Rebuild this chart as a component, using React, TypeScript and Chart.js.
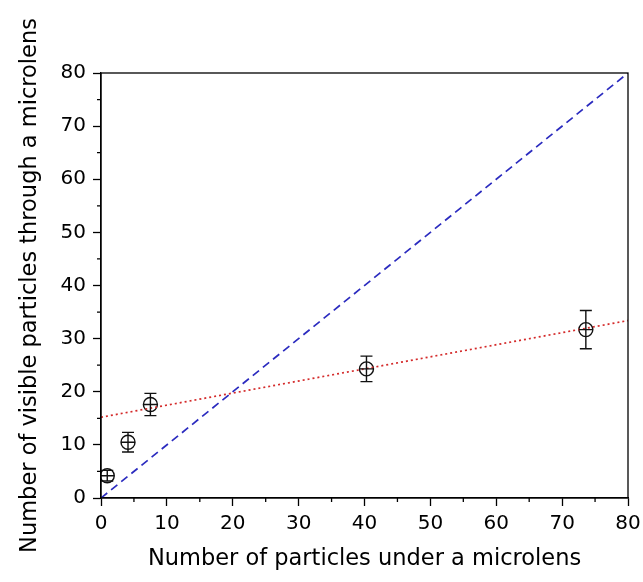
import React, { useEffect, useRef } from "react";
import { Chart, registerables } from "chart.js";

Chart.register(...registerables);

// Data
const particlesUnder = [0.95, 4.1, 7.5, 40.3, 73.6];
const visibleParticles = [4.2, 10.5, 17.6, 24.3, 31.7];
const visibleErrors = [1.0, 1.85, 2.1, 2.4, 3.6];

const identityX = [0, 80];
const identityY = [0, 80];

const fitX = [0, 80];
const fitY = [15.2, 33.4];

const axisMin = 0;
const axisMax = 80;
const majorStep = 10;
const minorTicks = [5, 15, 25, 35, 45, 55, 65, 75];

const xTitle = "Number of particles under a microlens";
const yTitle = "Number of visible particles through a microlens";

const FONT = "DejaVu Sans";

const decorPlugin = {
  id: "decor",
  afterDatasetsDraw(chart: any) {
    const { ctx, chartArea, scales } = chart;
    const x = scales.x;
    const y = scales.y;
    ctx.save();
    ctx.strokeStyle = "#111";
    ctx.lineWidth = 1.4;
    // error bars + crosshair in markers
    particlesUnder.forEach((xv, i) => {
      const px = x.getPixelForValue(xv);
      const py = y.getPixelForValue(visibleParticles[i]);
      const top = y.getPixelForValue(visibleParticles[i] + visibleErrors[i]);
      const bot = y.getPixelForValue(visibleParticles[i] - visibleErrors[i]);
      ctx.beginPath();
      ctx.moveTo(px, top);
      ctx.lineTo(px, bot);
      ctx.moveTo(px - 6, top);
      ctx.lineTo(px + 6, top);
      ctx.moveTo(px - 6, bot);
      ctx.lineTo(px + 6, bot);
      ctx.moveTo(px - 7, py);
      ctx.lineTo(px + 7, py);
      ctx.stroke();
    });
    // frame
    ctx.strokeStyle = "#000";
    ctx.lineWidth = 1.3;
    ctx.strokeRect(
      chartArea.left,
      chartArea.top,
      chartArea.right - chartArea.left,
      chartArea.bottom - chartArea.top
    );
    // minor ticks
    ctx.beginPath();
    minorTicks.forEach((v) => {
      const px = x.getPixelForValue(v);
      ctx.moveTo(px, chartArea.bottom);
      ctx.lineTo(px, chartArea.bottom + 4);
      const py = y.getPixelForValue(v);
      ctx.moveTo(chartArea.left, py);
      ctx.lineTo(chartArea.left - 4, py);
    });
    ctx.stroke();
    ctx.restore();
  },
};

export default function App() {
  const ref = useRef<HTMLCanvasElement | null>(null);

  useEffect(() => {
    if (!ref.current) return;
    const chart = new Chart(ref.current, {
      type: "scatter",
      data: {
        datasets: [
          {
            label: "identity",
            data: identityX.map((v, i) => ({ x: v, y: identityY[i] })),
            showLine: true,
            borderColor: "#2b2bbf",
            borderWidth: 1.7,
            borderDash: [8, 5],
            pointRadius: 0,
            fill: false,
          },
          {
            label: "fit",
            data: fitX.map((v, i) => ({ x: v, y: fitY[i] })),
            showLine: true,
            borderColor: "#d42a2a",
            borderWidth: 1.7,
            borderDash: [2, 3],
            pointRadius: 0,
            fill: false,
          },
          {
            label: "measured",
            data: particlesUnder.map((v, i) => ({ x: v, y: visibleParticles[i] })),
            pointStyle: "circle",
            pointRadius: 7,
            pointBorderWidth: 1.4,
            borderColor: "#111",
            backgroundColor: "rgba(0,0,0,0)",
            showLine: false,
          },
        ],
      },
      options: {
        animation: false,
        responsive: false,
        devicePixelRatio: 1,
        layout: { padding: { top: 73, right: 15, left: 0, bottom: 0 } },
        plugins: {
          legend: { display: false },
          tooltip: { enabled: false },
        },
        scales: {
          x: {
            type: "linear",
            min: axisMin,
            max: axisMax,
            afterFit: (s: any) => {
              s.height = 84;
              s.paddingLeft = 0;
              s.paddingRight = 0;
            },
            ticks: {
              stepSize: majorStep,
              color: "#000",
              font: { family: FONT, size: 20 },
              padding: 6,
              maxRotation: 0,
            },
            grid: {
              drawOnChartArea: false,
              drawTicks: true,
              tickLength: 8,
              tickColor: "#000",
              tickWidth: 1.3,
            },
            border: { display: true, color: "#000", width: 1.3 },
            title: {
              display: true,
              text: xTitle,
              color: "#000",
              font: { family: FONT, size: 22.5 },
              padding: { top: 0, bottom: 9 },
            },
          },
          y: {
            type: "linear",
            min: axisMin,
            max: axisMax,
            afterFit: (s: any) => {
              s.width = 101;
              s.paddingTop = 0;
              s.paddingBottom = 0;
            },
            ticks: {
              stepSize: majorStep,
              color: "#000",
              font: { family: FONT, size: 20 },
              padding: 7,
            },
            grid: {
              drawOnChartArea: false,
              drawTicks: true,
              tickLength: 8,
              tickColor: "#000",
              tickWidth: 1.3,
            },
            border: { display: true, color: "#000", width: 1.3 },
            title: {
              display: true,
              text: yTitle,
              color: "#000",
              font: { family: FONT, size: 22.5 },
              padding: { top: 17, bottom: 0 },
            },
          },
        },
      },
      plugins: [decorPlugin],
    });
    return () => chart.destroy();
  }, []);

  return (
    <div style={{ position: "absolute", left: 0, top: 0, width: 643, height: 582, background: "#fff" }}>
      <canvas ref={ref} width={643} height={582} />
    </div>
  );
}
